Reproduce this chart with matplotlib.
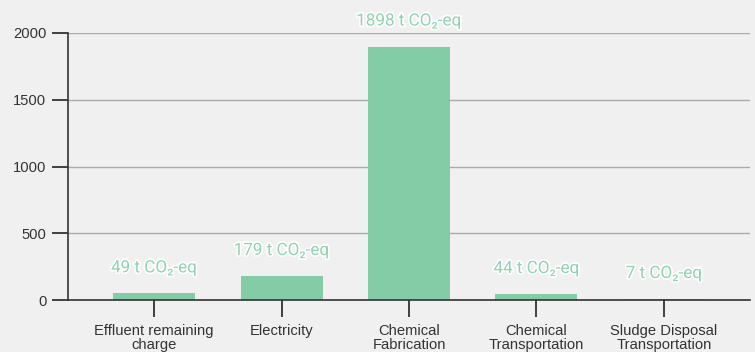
import matplotlib
matplotlib.use("Agg")
import matplotlib.pyplot as plt
import matplotlib.patheffects as pe

categories = ["Effluent remaining\ncharge", "Electricity", "Chemical\nFabrication",
              "Chemical\nTransportation", "Sludge Disposal\nTransportation"]
values = [49, 179, 1898, 44, 7]
yticks = [0, 500, 1000, 1500, 2000]

bg = "#f0f0f0"
bar_color = "#84cca6"
label_color = "#8fd3b0"
tick_font = ["Liberation Sans", "DejaVu Sans"]

fig = plt.figure(figsize=(7.55, 3.52), dpi=100, facecolor=bg)
ax = fig.add_axes([68/755, 1-300/352, (750-68)/755, (300-33)/352])
ax.set_facecolor(bg)

x = list(range(len(values)))
bars = ax.bar(x, values, width=0.643, color=bar_color, zorder=3)

ax.set_xlim(-0.675, 4.675)
ax.set_ylim(0, 2000)
ax.set_yticks(yticks)
ax.set_xticks(x)
ax.set_xticklabels(categories, fontsize=10.6, color="#333333", family=tick_font, linespacing=0.95)
ax.set_yticklabels([str(v) for v in yticks], fontsize=10.6, color="#333333", family=tick_font)
ax.tick_params(axis="y", length=11.5, width=1.2, color="#222222", pad=4)
ax.tick_params(axis="x", length=12, width=1.2, color="#222222", pad=5.5)
ax.grid(axis="y", color="#aaaaaa", linewidth=1, zorder=0)
for s in ["top", "right"]:
    ax.spines[s].set_visible(False)
for s in ["left", "bottom"]:
    ax.spines[s].set_color("#333333")
    ax.spines[s].set_linewidth(1.2)
ax.spines["bottom"].set_zorder(4)

for xi, v in zip(x, values):
    ax.annotate(f"{v} t CO\u2082-eq", (xi, v), xytext=(0, 13), textcoords="offset points",
                ha="center", va="bottom", fontsize=12.3, color=label_color,
                family=["Roboto", "DejaVu Sans"], zorder=5,
                path_effects=[pe.withStroke(linewidth=2.5, foreground="white")],
                annotation_clip=False)

fig.savefig("out.png", dpi=100, facecolor=bg)
